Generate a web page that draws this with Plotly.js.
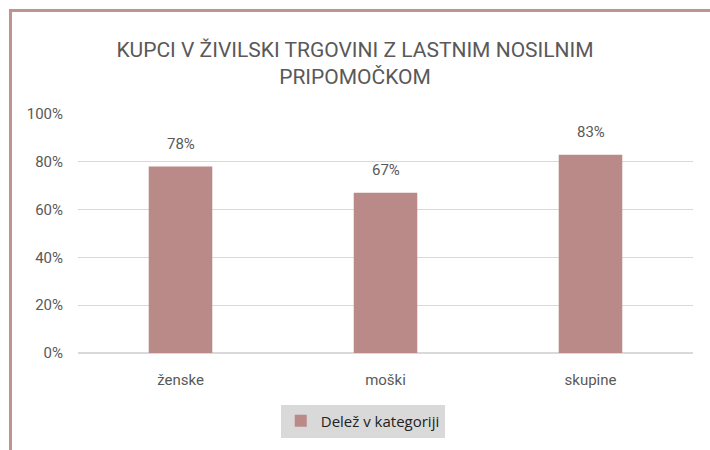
<!DOCTYPE html>
<html><head><meta charset="utf-8">
<script src="https://cdn.plot.ly/plotly-3.0.1.min.js"></script>
<style>
html,body{margin:0;padding:0;background:#fff;overflow:hidden}
#frame{position:absolute;left:9px;top:9px;width:720px;height:460px;border-top:3px solid #c09393;border-left:3px solid #c09393;pointer-events:none;z-index:10}
#chart{position:absolute;left:0;top:0;width:710px;height:450px}
</style></head>
<body>
<div id="chart"></div><div id="frame"></div>
<script>
const categories = ['ženske', 'moški', 'skupine'];
const values = [78, 67, 83];
const seriesName = 'Delež v kategoriji';
const titleText = 'KUPCI V ŽIVILSKI TRGOVINI Z LASTNIM NOSILNIM<br>PRIPOMOČKOM';

const trace = {
  type: 'bar', x: categories, y: values, name: seriesName,
  marker: {color: '#b98a88'},
  cliponaxis: false, showlegend: true
};
const labels = categories.map((c, i) => ({
  x: c, y: values[i], xref: 'x', yref: 'y', text: values[i] + '%',
  showarrow: false, yanchor: 'bottom', yshift: 12,
  font: {family: 'Roboto', size: 15, color: '#595959'}
}));
const layout = {
  width: 710, height: 450,
  margin: {l: 78, r: 17, t: 114, b: 94},
  paper_bgcolor: '#fff', plot_bgcolor: '#fff',
  font: {family: 'Roboto', color: '#595959', size: 15},
  title: {text: titleText, x: 0.5, xanchor: 'center', y: 0.873, yanchor: 'middle', yref: 'container',
          font: {family: 'Roboto', size: 21, color: '#595959'}},
  bargap: 0.69,
  annotations: labels,
  xaxis: {showline: false, ticks: '', ticklabelstandoff: 16, tickfont: {size: 15, color: '#595959'}},
  yaxis: {range: [0, 100], dtick: 20, ticksuffix: '%', gridcolor: '#d9d9d9', gridwidth: 1,
          zeroline: true, zerolinecolor: '#d9d9d9', zerolinewidth: 2, ticks: '', ticklabelstandoff: 14,
          tickfont: {size: 15, color: '#595959'}, automargin: false},
  showlegend: true,
  legend: {x: 0.463, y: -0.285, xanchor: 'center', yanchor: 'middle', orientation: 'h', itemwidth: 30,
           bgcolor: '#d9d9d9', font: {family: 'Open Sans', size: 15, color: '#222'}}
};
Plotly.newPlot('chart', [trace], layout, {displayModeBar: false, staticPlot: true});
</script>
</body></html>
